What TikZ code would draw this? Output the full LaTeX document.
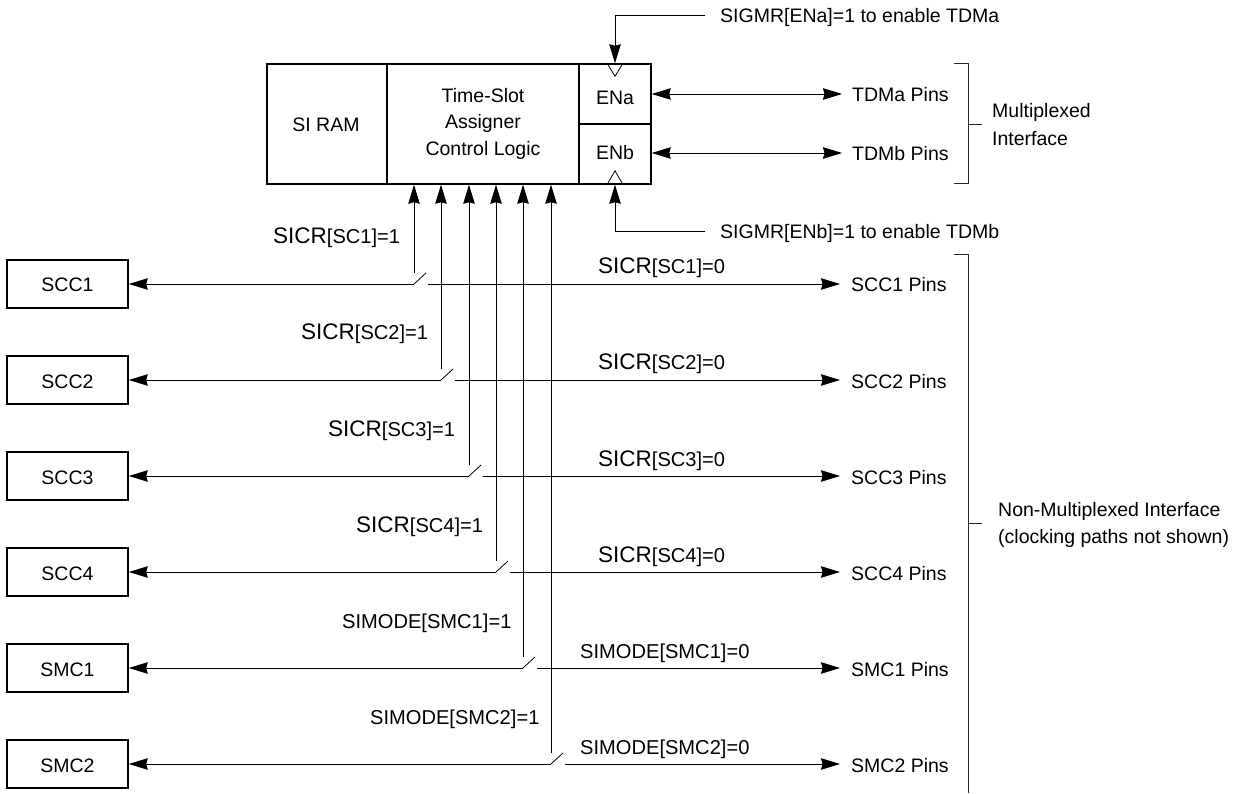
\documentclass[tikz,border=0pt]{standalone}
\usepackage{fontspec}
\setmainfont{Liberation Sans}
\usetikzlibrary{arrows.meta}
\newcommand{\lblfont}{\fontsize{19.5}{23}\selectfont}
\newcommand{\chanfont}{\fontsize{20.1}{23}\selectfont}
\newcommand{\bigsicr}{{\fontsize{22.5}{23}\selectfont SICR}}
\tikzset{
  x=1pt,y=-1pt,
  boxed/.style={draw=black,line width=1.5pt,inner sep=0pt,fill=white},
  txt/.style={inner sep=0pt,font=\lblfont,text=black},
  chan/.style={inner sep=0pt,font=\chanfont,text=black},
  wire/.style={draw=black,line width=0.8pt},
  tip/.style={-{Stealth[length=19pt,width=11.5pt,inset=1.5pt]}},
  tips/.style={{Stealth[length=19pt,width=11.5pt,inset=1.5pt]}-{Stealth[length=19pt,width=11.5pt,inset=1.5pt]}},
  brk/.style={draw=black!85,line width=0.8pt},
}
\begin{document}
\begin{tikzpicture}
\useasboundingbox (0,0) rectangle (1237,794);
% main block
\node[boxed,minimum width=120pt,minimum height=120pt] (ram) at (327,124) {};
\node[boxed,minimum width=192pt,minimum height=120pt] (tsa) at (483,124) {};
\node[boxed,minimum width=72pt,minimum height=60pt] (ena) at (615,94) {};
\node[boxed,minimum width=72pt,minimum height=60pt] (enb) at (615,154) {};
\node[txt,anchor=base] (ramt) at (326,132) {SI RAM};
\node[txt,anchor=base] (t1) at (483,103) {Time-Slot};
\node[txt,anchor=base] (t2) at (483,129) {Assigner};
\node[txt,anchor=base] (t3) at (483,156) {Control Logic};
\node[txt,anchor=base] (enat) at (615,105) {ENa};
\node[txt,anchor=base] (enbt) at (615,160) {ENb};
% enable triangles
\coordinate (ta) at (ena.north);
\coordinate (tb) at (enb.south);
\draw[wire] ([xshift=-8pt]ta) -- ([yshift=-13pt]ta) -- ([xshift=8pt]ta);
\draw[wire] ([xshift=-8pt]tb) -- ([yshift=14pt]tb) -- ([xshift=8pt]tb);
% enable labels
\node[txt,anchor=base west] (siga) at (720,23) {SIGMR[ENa]=1 to enable TDMa};
\node[txt,anchor=base west] (sigb) at (720,239) {SIGMR[ENb]=1 to enable TDMb};
\coordinate (sa) at (705,15);
\coordinate (sb) at (705,231);
\draw[wire,tip] (sa) -- (sa -| ena.north) -- (ena.north);
\draw[wire,tip] (sb) -- (sb -| enb.south) -- (enb.south);
% TDM pins
\node[txt,anchor=base west] (tdma) at (852,102) {TDMa Pins};
\node[txt,anchor=base west] (tdmb) at (852,161) {TDMb Pins};
\coordinate (tdmaend) at (842,94);
\coordinate (tdmbend) at (842,153);
\draw[wire,tips] (ena.east |- tdmaend) -- (tdmaend);
\draw[wire,tips] (enb.east |- tdmbend) -- (tdmbend);
% brackets
\coordinate (b1t) at (954,63);
\coordinate (b1b) at (954,183);
\coordinate (b1m) at (982,124);
\draw[brk] (b1t) -- (968,63) -- (968,183) -- (b1b);
\draw[brk] (968,124) -- (b1m);
\node[txt,anchor=base west] (mux1) at (992,118) {Multiplexed};
\node[txt,anchor=base west] (mux2) at (992,146) {Interface};
\coordinate (b2t) at (954,254);
\coordinate (b2b) at (968,793);
\coordinate (b2m) at (982,523);
\draw[brk] (b2t) -- (968,254) -- (b2b);
\draw[brk] (968,523) -- (b2m);
\node[txt,anchor=base west] (nm1) at (998,516) {Non-Multiplexed Interface};
\node[txt,anchor=base west] (nm2) at (998,543) {(clocking paths not shown)};
% channels
\foreach \nm/\vx/\ly/\lx/\ltxt/\rx/\rtxt in {
  SCC1/414/284/273/{\bigsicr[SC1]=1}/598/{\bigsicr[SC1]=0},
  SCC2/441/380/301/{\bigsicr[SC2]=1}/598/{\bigsicr[SC2]=0},
  SCC3/469/476/328/{\bigsicr[SC3]=1}/598/{\bigsicr[SC3]=0},
  SCC4/496/572/356/{\bigsicr[SC4]=1}/598/{\bigsicr[SC4]=0},
  SMC1/523/668/342/{SIMODE[SMC1]=1}/580/{SIMODE[SMC1]=0},
  SMC2/551/764/370/{SIMODE[SMC2]=1}/580/{SIMODE[SMC2]=0}}{
  \node[boxed,minimum width=121pt,minimum height=48pt] (\nm) at (67.5,\ly) {};
  \node[txt,anchor=base] (\nm t) at (67.5,\ly+8) {\nm};
  \node[txt,anchor=base west] (\nm p) at (851,\ly+8) {\nm\ Pins};
  \node[chan,anchor=base west] (\nm l) at (\lx,\ly-40) {\ltxt};
  \node[chan,anchor=base west] (\nm r) at (\rx,\ly-10) {\rtxt};
  \coordinate (\nm sw) at (\vx,\ly);
  \coordinate (\nm up) at (\vx,\ly-11);
  \coordinate (\nm tip) at (\vx+12,\ly-11);
  \coordinate (\nm out) at (\vx+14,\ly);
  \coordinate (\nm end) at (840,\ly);
  \draw[wire,tip] (\nm sw) -- (\nm.east);
  \draw[wire] (\nm sw) -- (\nm tip);
  \draw[wire,tip] (\nm out) -- (\nm end);
  \draw[wire,tip] (\nm up) -- (\nm up |- tsa.south);
}
\end{tikzpicture}
\end{document}
